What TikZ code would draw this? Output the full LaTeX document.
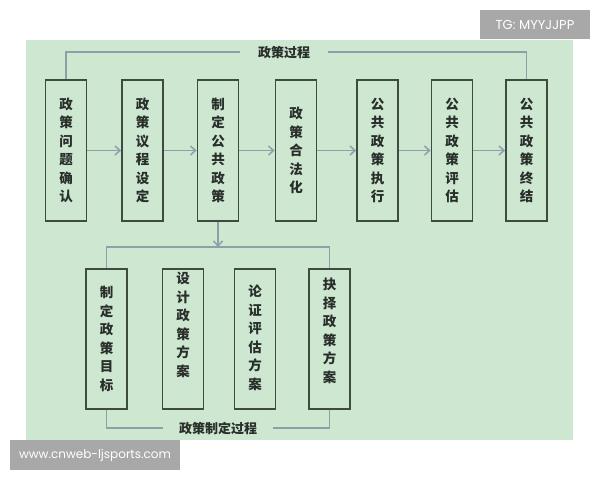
\documentclass[tikz,border=0pt]{standalone}
\usepackage{fontspec}
\newfontfamily\cjk{Noto Sans CJK SC}
\newfontfamily\wmfont{Poppins}
\usetikzlibrary{arrows.meta}
\definecolor{bgc}{RGB}{206,231,209}
\definecolor{boxc}{RGB}{62,76,64}
\definecolor{connc}{RGB}{140,160,170}
\definecolor{txtc}{RGB}{40,46,42}
\definecolor{wmc}{RGB}{168,168,168}
\begin{document}
\begin{tikzpicture}[x=1pt,y=-1pt,
  stagebox/.style={draw=boxc, line width=1.8pt, fill=bgc, minimum width=41pt, minimum height=141pt, inner sep=0pt},
  subbox/.style={stagebox, minimum height=140pt},
  vtext/.style={font=\cjk\bfseries\fontsize{13.5}{18.5}\selectfont, align=center, text=txtc, inner sep=0pt},
  lbl/.style={font=\cjk\bfseries\fontsize{13}{15}\selectfont, text=txtc, fill=bgc, inner ysep=2pt},
  conn/.style={draw=connc, line width=1.5pt},
  arr/.style={conn, -{Straight Barb[length=5pt,width=9pt]}},
  wm/.style={fill=wmc, text=white, font=\wmfont\fontsize{12}{14}\selectfont, inner sep=0pt}]
\useasboundingbox (0,0) rectangle (600,480);
\fill[bgc] (26,40) rectangle (573,440);

% top row
\node[stagebox] (t1) at (66,150.5) {};
\node[stagebox] (t2) at (142.5,150.5) {};
\node[stagebox] (t3) at (218,150.5) {};
\node[stagebox] (t4) at (296,150.5) {};
\node[stagebox] (t5) at (377.5,150.5) {};
\node[stagebox] (t6) at (452,150.5) {};
\node[stagebox] (t7) at (526.5,150.5) {};
\node[vtext] (t1x) at (t1) {政\\策\\问\\题\\确\\认};
\node[vtext] (t2x) at (t2) {政\\策\\议\\程\\设\\定};
\node[vtext] (t3x) at (t3) {制\\定\\公\\共\\政\\策};
\node[vtext] (t4x) at (t4) {政\\策\\合\\法\\化};
\node[vtext] (t5x) at (t5) {公\\共\\政\\策\\执\\行};
\node[vtext] (t6x) at (t6) {公\\共\\政\\策\\评\\估};
\node[vtext] (t7x) at (t7) {公\\共\\政\\策\\终\\结};

\draw[arr] (t1) -- (t2);
\draw[arr] (t2) -- (t3);
\draw[arr] (t3) -- (t4);
\draw[arr] (t4) -- (t5);
\draw[arr] (t5) -- (t6);
\draw[arr] (t6) -- (t7);

% top bracket
\draw[conn] (t1.north) -- ++(0,-27) -| (t7.north);
\node[lbl, inner xsep=18pt] (ptitle) at (284,53) {政策过程};

% bottom row
\node[subbox] (b1) at (106.5,339) {};
\node[subbox] (b2) at (183,339) {};
\node[subbox] (b3) at (255,339) {};
\node[subbox] (b4) at (329.5,339) {};
\node[vtext] (b1x) at (106.5,339) {制\\定\\政\\策\\目\\标};
\node[vtext] (b2x) at (183,325) {设\\计\\政\\策\\方\\案};
\node[vtext] (b3x) at (255,338) {论\\证\\评\\估\\方\\案};
\node[vtext] (b4x) at (329.5,331) {抉\\择\\政\\策\\方\\案};

\coordinate (bj) at (218,247);
\draw[arr] (t3.south) -- (bj);
\draw[conn] (b1.north) |- (bj) -| (b4.north);

\coordinate (bb) at (218,428);
\draw[conn] (b1.south) |- (bb) -| (b4.south);
\node[lbl, inner xsep=16pt] (stitle) at (bb) {政策制定过程};

% watermarks
\node[wm, minimum width=110pt, minimum height=29pt, font=\wmfont\fontsize{13}{15}\selectfont] (tg) at (535,24.5) {TG: MYYJJPP};
\node[wm, minimum width=170pt, minimum height=30pt] (www) at (95,455) {www.cnweb-ljsports.com};
\end{tikzpicture}
\end{document}
